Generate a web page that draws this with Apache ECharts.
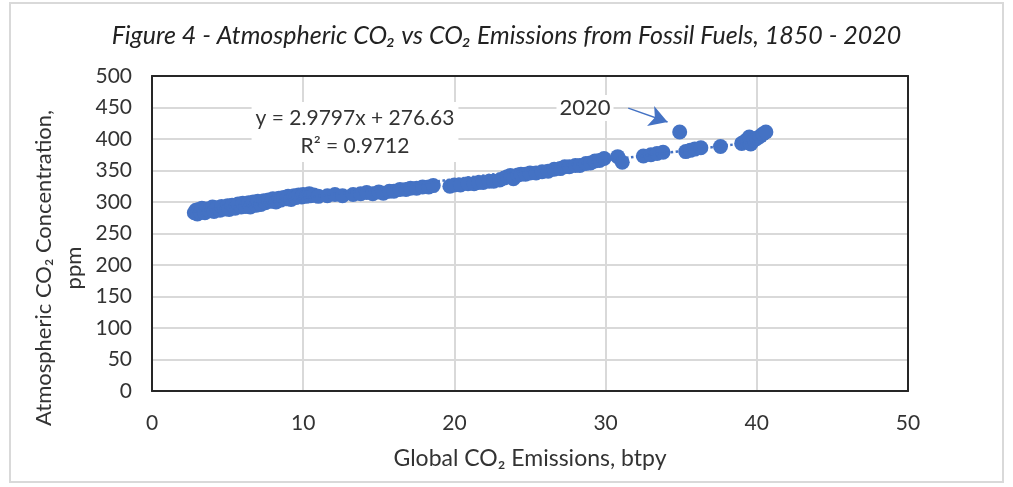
<!DOCTYPE html>
<html>
<head>
<meta charset="utf-8">
<script src="https://cdn.jsdelivr.net/npm/echarts@6/dist/echarts.min.js"></script>
<style>
  html, body { margin: 0; padding: 0; background: #fff; }
  #chart { width: 1013px; height: 487px; }
</style>
</head>
<body>
<div id="chart"></div>
<script>
// global CO2 emissions (btpy)
const emissions = [
  2.8, 2.9, 3.0, 3.1, 3.2, 3.3, 3.5, 3.6, 3.8, 4.0, 4.1, 4.3, 4.5, 4.6, 4.8, 5.0, 5.1, 5.3, 5.5, 5.7,
  5.9, 6.0, 6.2, 6.4, 6.5, 6.7, 6.9, 7.0, 7.2, 7.4, 7.5, 7.7, 7.9, 8.0, 8.2, 8.4, 8.5, 8.7, 8.9, 9.0,
  9.2, 9.4, 9.5, 9.7, 9.9, 10.0, 10.2, 10.4, 10.5,
  10.7, 11.0, 11.6, 12.1, 12.6, 13.3, 13.8, 14.2, 14.6, 15.0, 15.3, 15.7, 16.0, 16.4, 16.8, 17.1,
  17.5, 17.9, 18.3, 18.6,
  19.7, 20.0, 20.4, 20.9, 21.3, 21.6, 21.9, 22.3, 22.6, 23.0, 23.3, 23.5, 23.7, 23.9, 24.2, 24.4,
  24.7, 25.0, 25.4, 25.8, 26.2, 26.6, 27.0, 27.3, 27.6, 28.0, 28.3, 28.7, 29.0, 29.3, 29.6, 29.9,
  30.8, 31.1, 32.5, 33.0, 33.4, 33.8, 34.9, 35.3, 35.6, 35.9, 36.3, 37.6,
  39.0, 39.2, 39.4, 39.5, 39.6, 39.8, 40.0, 40.2, 40.4, 40.6
];
// atmospheric CO2 concentration (ppm)
const concentration = [
  283, 287, 281, 288, 284, 290, 283, 289, 286, 292, 285, 291, 287, 293, 289, 294, 288, 295, 290, 297,
  292, 298, 293, 299, 292, 300, 295, 301, 296, 302, 299, 303, 301, 305, 300, 306, 303, 307, 305, 309,
  304, 310, 307, 311, 308, 312, 309, 313, 310,
  311, 309, 310, 312, 310, 312, 313, 315, 313, 316, 314, 317, 317, 320, 320, 322,
  322, 324, 324, 326,
  325, 327, 327, 329, 329, 331, 331, 333, 333, 335, 338, 340, 342, 337, 343, 344,
  344, 346, 346, 348, 349, 352, 353, 356, 356, 358, 358, 361, 362, 365, 366, 369,
  372, 363, 373, 375, 377, 379, 411, 380, 382, 384, 386, 388,
  393, 396, 399, 403, 392, 398, 401, 404, 408, 411
];
const xTicks = [0, 10, 20, 30, 40, 50];
const yTicks = [0, 50, 100, 150, 200, 250, 300, 350, 400, 450, 500];

// linear trend shown on the chart
const slope = 2.9797;
const intercept = 276.63;
const rSquared = 0.9712;

const points = emissions.map((x, i) => [x, concentration[i]]);
const xMin = Math.min(...emissions);
const xMax = Math.max(...emissions);
const trend = [[xMin, slope * xMin + intercept], [xMax, slope * xMax + intercept]];

const font = 'Lato, "Noto Sans", sans-serif';
const blue = '#4472C4';
const frame = { show: true, onZero: false, lineStyle: { color: '#262626', width: 2 } };

const chart = echarts.init(document.getElementById('chart'));
chart.setOption({
  backgroundColor: '#fff',
  animation: false,
  title: {
    text: 'Figure 4 - Atmospheric CO₂ vs CO₂ Emissions from Fossil Fuels, 1850 - 2020',
    left: 'center',
    top: 18,
    textStyle: { fontFamily: font, fontStyle: 'italic', fontWeight: 'normal', fontSize: 25, color: '#222' }
  },
  grid: { left: 152, right: 105, top: 76, bottom: 96 },
  xAxis: [
    {
      type: 'value',
      min: xTicks[0],
      max: xTicks[xTicks.length - 1],
      interval: 10,
      name: 'Global CO₂ Emissions, btpy',
      nameLocation: 'middle',
      nameGap: 56,
      nameTextStyle: { fontFamily: font, fontSize: 23, color: '#333' },
      axisLine: frame,
      axisTick: { show: false },
      axisLabel: { margin: 22, fontFamily: font, fontSize: 21, color: '#333' },
      splitLine: { lineStyle: { color: '#d9d9d9', width: 2 } }
    },
    {
      type: 'value', position: 'top', min: 0, max: 50,
      axisLine: frame, axisTick: { show: false }, axisLabel: { show: false }, splitLine: { show: false }
    }
  ],
  yAxis: [
    {
      type: 'value',
      min: yTicks[0],
      max: yTicks[yTicks.length - 1],
      interval: 50,
      axisLine: frame,
      axisTick: { show: false },
      axisLabel: { margin: 20, fontFamily: font, fontSize: 21, color: '#333' },
      splitLine: { lineStyle: { color: '#d9d9d9', width: 2 } }
    },
    {
      type: 'value', position: 'right', min: 0, max: 500,
      axisLine: frame, axisTick: { show: false }, axisLabel: { show: false }, splitLine: { show: false }
    }
  ],
  graphic: [
    {
      type: 'rect',
      shape: { x: 10, y: 3, width: 993, height: 479 },
      style: { fill: 'none', stroke: '#d9d9d9', lineWidth: 2 },
      silent: true
    },
    {
      type: 'text',
      x: 59,
      y: 268,
      rotation: Math.PI / 2,
      style: {
        text: 'Atmospheric CO₂ Concentration,\nppm',
        align: 'center',
        verticalAlign: 'middle',
        lineHeight: 30,
        font: '22px ' + font,
        fill: '#333'
      }
    },
    {
      type: 'text',
      x: 355,
      y: 132,
      z: 10,
      style: {
        text: 'y = 2.9797x + 276.63\nR² = ' + rSquared,
        align: 'center',
        verticalAlign: 'middle',
        lineHeight: 28,
        font: '21px ' + font,
        fill: '#333',
        backgroundColor: '#fff',
        padding: [2, 4]
      }
    },
    {
      type: 'text',
      x: 585,
      y: 108,
      z: 10,
      style: {
        text: '2020', align: 'center', verticalAlign: 'middle', font: '22px ' + font, fill: '#333',
        backgroundColor: '#fff', padding: [2, 3]
      }
    }
  ],
  series: [
    {
      type: 'scatter',
      data: points,
      symbolSize: 15,
      itemStyle: { color: blue, opacity: 1 },
      markLine: {
        silent: true,
        symbol: ['none', 'arrow'],
        symbolSize: [16, 18],
        label: { show: false },
        lineStyle: { color: blue, type: 'solid', width: 1.5 },
        data: [[{ coord: [31.5, 449] }, { coord: [34.1, 427] }]]
      }
    },
    {
      type: 'line',
      data: trend,
      symbol: 'none',
      lineStyle: { color: blue, type: 'dotted', width: 2.5 },
      z: 3
    }
  ]
});
</script>
</body>
</html>
